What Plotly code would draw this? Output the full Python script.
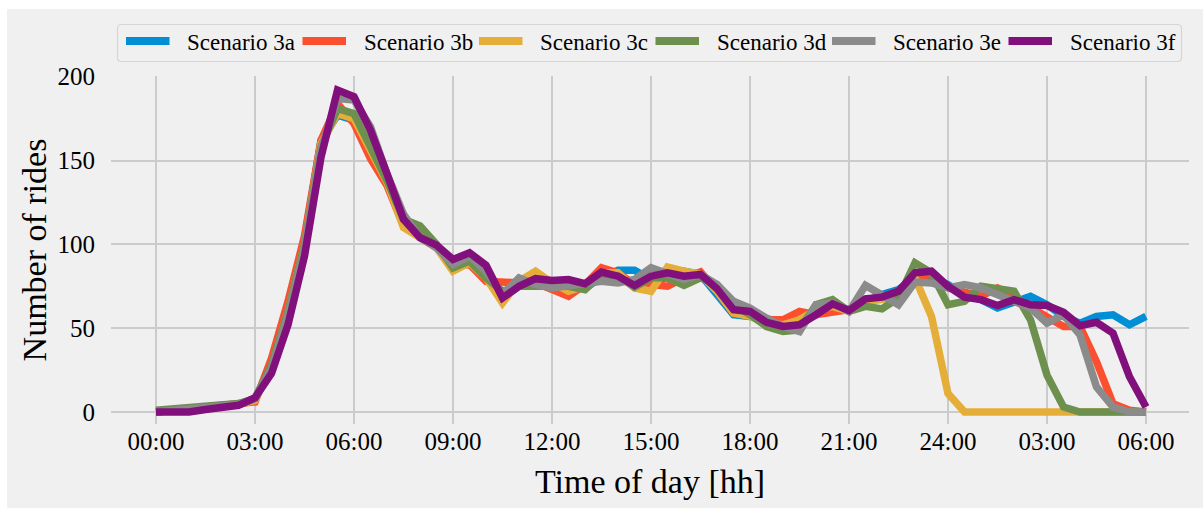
import plotly.graph_objects as go

# Half-hour time steps from 00:00 to 06:00 the following morning (hours since midnight)
hours = [i * 0.5 for i in range(61)]

tick_hours = [0, 3, 6, 9, 12, 15, 18, 21, 24, 27, 30]
tick_labels = ["00:00", "03:00", "06:00", "09:00", "12:00", "15:00",
               "18:00", "21:00", "24:00", "03:00", "06:00"]

scenario_names = ["Scenario 3a", "Scenario 3b", "Scenario 3c",
                  "Scenario 3d", "Scenario 3e", "Scenario 3f"]

rides_3a = [0, 1, 2, 3, 4, 4.5, 8, 28, 62, 103, 162, 177, 174, 155, 137, 113, 106, 99,
            87, 90, 80, 68, 75, 77, 74, 73, 74, 80, 84.5, 84.5, 79, 80, 84, 82, 70, 58,
            57, 55, 54, 54, 58, 63, 61, 66, 70, 73, 80, 80, 76, 70, 67, 62, 66, 69, 64,
            57, 53, 57, 58, 52, 57]
rides_3b = [0, 1, 2, 3, 4, 4, 6, 32, 66, 105, 162, 184, 172, 151, 135, 111, 105, 98,
            87, 88, 78, 77, 77, 77, 73, 69, 76, 86, 83, 76, 76, 75, 80, 83.5, 72, 59,
            58, 55, 55, 60, 58, 60, 61, 65, 69, 72, 81, 82, 74, 71, 69, 74, 68, 63, 56,
            51, 51, 30, 5, 1, 0]
rides_3c = [0, 1, 2, 3, 4, 4.5, 7, 27, 60, 100, 160, 178, 175, 155, 137, 110, 104, 98,
            84, 89, 80, 65, 78, 84, 77, 72, 75, 83, 83, 74, 72, 86.5, 84, 82, 72, 59,
            57, 53, 52, 55, 61, 63, 60, 66, 67, 70, 80, 57, 11, 0, 0, 0, 0, 0, 0,
            0, 0, 0, 0, 0, 0]
rides_3d = [1, 2, 3, 4, 5, 5, 8, 28, 60, 100, 158, 181, 178, 158, 138, 115, 111, 100,
            86, 90, 80, 72, 75, 75, 75, 75, 73, 82, 81, 74.5, 80, 80, 75.5, 80, 76, 64,
            58, 51, 48, 49, 64, 67, 60, 63, 61.5, 68, 89, 83, 64, 66, 75, 73, 72, 55, 22,
            3, 0, 0, 0, 0, 0]
rides_3e = [0, 1, 2, 3, 4, 4.5, 8, 26, 58, 98, 157, 187, 186, 170, 142, 118, 104, 98,
            88, 93, 84, 70, 80, 76, 74, 75, 76, 78, 77, 79, 86, 82, 79, 82, 76, 66,
            62, 56, 51, 48, 64, 65, 60, 75.5, 70, 64, 77.5, 77, 74, 76, 74, 70, 65, 62, 53,
            58, 46, 15, 3, 0, 0]
rides_3f = [0, 0, 0, 1.5, 3, 4, 8.5, 23, 52, 93, 152, 192, 188, 168, 142, 115, 104, 99.5,
            91, 95, 87.5, 68, 75, 79.5, 78.5, 79, 76.5, 83.5, 81, 75.5, 81, 83, 81, 82, 73.5, 61,
            60, 53.5, 51, 52, 58, 64.5, 60.5, 67.5, 68.5, 72, 83, 84, 75, 68.5, 67, 63.5, 67, 64, 63.5,
            59.5, 51.5, 53.5, 47, 21, 3]

series = [rides_3a, rides_3b, rides_3c, rides_3d, rides_3e, rides_3f]
colors = ["#008fd5", "#fc4f30", "#e5ae38", "#6d904f", "#8b8b8b", "#810f7c"]

FONT = "Liberation Serif"
BG = "#f0f0f0"
GRID = "#cbcbcb"

W, H = 1203, 508
L, R, T, B = 111, 14, 76, 84
pw, ph = W - L - R, H - T - B


def px_x(px):
    """Pixel column -> paper x."""
    return (px - L) / pw


def px_y(py):
    """Pixel row -> paper y."""
    return (H - B - py) / ph


fig = go.Figure()
for name, values, color in zip(scenario_names, series, colors):
    fig.add_trace(go.Scatter(
        x=hours, y=values, name=name, mode="lines",
        line=dict(color=color, width=7.5),
        showlegend=False,
    ))

# white strips framing the grey figure face along the top and left edges
fig.add_shape(type="rect", xref="paper", yref="paper",
              x0=px_x(0), x1=px_x(7), y0=px_y(H), y1=px_y(0),
              fillcolor="white", line=dict(width=0), layer="above")
fig.add_shape(type="rect", xref="paper", yref="paper",
              x0=px_x(0), x1=px_x(W), y0=px_y(9), y1=px_y(0),
              fillcolor="white", line=dict(width=0), layer="above")

# legend frame with rounded corners
bx0, bx1, by0, by1, rad = 117.5, 1181.5, 24.5, 61.5, 4
corner_path = (
    f"M {px_x(bx0 + rad)},{px_y(by0)} L {px_x(bx1 - rad)},{px_y(by0)} "
    f"Q {px_x(bx1)},{px_y(by0)} {px_x(bx1)},{px_y(by0 + rad)} "
    f"L {px_x(bx1)},{px_y(by1 - rad)} "
    f"Q {px_x(bx1)},{px_y(by1)} {px_x(bx1 - rad)},{px_y(by1)} "
    f"L {px_x(bx0 + rad)},{px_y(by1)} "
    f"Q {px_x(bx0)},{px_y(by1)} {px_x(bx0)},{px_y(by1 - rad)} "
    f"L {px_x(bx0)},{px_y(by0 + rad)} "
    f"Q {px_x(bx0)},{px_y(by0)} {px_x(bx0 + rad)},{px_y(by0)} Z"
)
fig.add_shape(type="path", xref="paper", yref="paper", path=corner_path,
              fillcolor=BG, line=dict(color="#d6d6d6", width=1.2), layer="above")

# legend entries: a thick colour swatch followed by the scenario name
entry_x0, entry_pitch, swatch_w, text_gap, entry_y = 126, 176.5, 43.5, 15.5, 41
for i, (name, color) in enumerate(zip(scenario_names, colors)):
    sx = entry_x0 + i * entry_pitch
    fig.add_shape(type="line", xref="paper", yref="paper",
                  x0=px_x(sx), x1=px_x(sx + swatch_w), y0=px_y(entry_y), y1=px_y(entry_y),
                  line=dict(color=color, width=8), layer="above")
    fig.add_annotation(xref="paper", yref="paper",
                       x=px_x(sx + swatch_w + text_gap), y=px_y(entry_y + 1),
                       xanchor="left", yanchor="middle", showarrow=False,
                       text=name, font=dict(family=FONT, size=23, color="black"))

fig.update_layout(
    width=W, height=H,
    margin=dict(l=L, r=R, t=T, b=B, autoexpand=False),
    paper_bgcolor=BG, plot_bgcolor=BG,
    font=dict(family=FONT, color="black", size=25),
    showlegend=False,
    xaxis=dict(
        range=[-1.364, 31.303],
        tickvals=tick_hours, ticktext=tick_labels,
        showgrid=True, gridcolor=GRID, gridwidth=1.5,
        zeroline=False, showline=False,
        ticks="",
        tickfont=dict(family=FONT, size=25),
        title=dict(text="Time of day [hh]", font=dict(family=FONT, size=34), standoff=15),
    ),
    yaxis=dict(
        range=[-7.16, 200.4],
        tickvals=[0, 50, 100, 150, 200],
        showgrid=True, gridcolor=GRID, gridwidth=1.5,
        zeroline=False, showline=False,
        ticks="outside", ticklen=10, tickcolor=BG,
        tickfont=dict(family=FONT, size=25),
        title=dict(text="Number of rides", font=dict(family=FONT, size=34), standoff=0),
    ),
)

fig.write_html("out.html")
